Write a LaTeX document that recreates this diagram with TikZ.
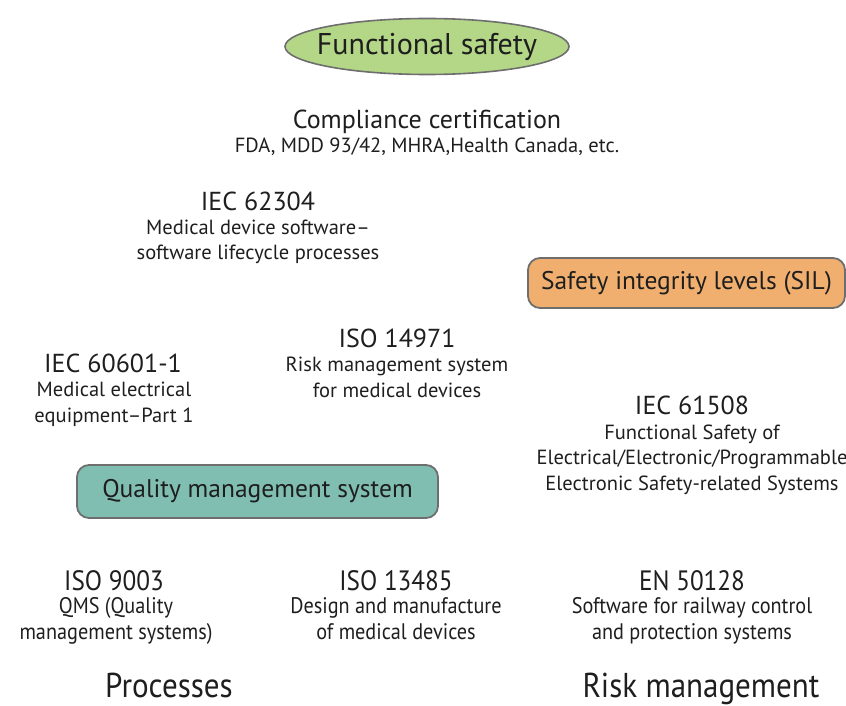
\documentclass[tikz,border=0pt]{standalone}
\usepackage{fontspec}
\setmainfont{PT Sans}
\newfontfamily\condfont[FakeStretch=0.9]{PT Sans}
\usetikzlibrary{shapes.geometric}
\definecolor{fsgreen}{RGB}{179,215,134}
\definecolor{silorange}{RGB}{240,175,110}
\definecolor{qmsteal}{RGB}{128,190,178}
\definecolor{edgegray}{RGB}{110,110,110}
\definecolor{txt}{RGB}{30,30,30}
\tikzset{
  headtext/.style={anchor=base, text=txt, inner sep=0pt, font=\fontsize{26}{30}\selectfont},
  desctext/.style={anchor=base, text=txt, inner sep=0pt, align=center, font=\fontsize{20.5}{25.5}\selectfont},
  condhead/.style={anchor=base, text=txt, inner sep=0pt, font=\condfont\fontsize{28}{32}\selectfont},
  conddesc/.style={anchor=base, text=txt, inner sep=0pt, align=center, font=\condfont\fontsize{22.5}{26}\selectfont},
  bigtext/.style={anchor=base, text=txt, inner sep=0pt, font=\condfont\fontsize{34.5}{38}\selectfont},
  roundbox/.style={draw=edgegray, line width=1.8pt, rounded corners=12pt, text=txt,
     font=\fontsize{25.5}{30}\selectfont, inner sep=0pt},
  ovalbox/.style={ellipse, draw=edgegray, line width=1.6pt, fill=fsgreen, text=txt,
     font=\fontsize{30}{34}\selectfont, inner xsep=-12pt, inner ysep=-4pt}
}
\begin{document}
\begin{tikzpicture}[x=1pt,y=-1pt]
\useasboundingbox (0,0) rectangle (846,706);

\node[ovalbox, minimum width=284pt, minimum height=56pt] (fs) at (427,46.5) {Functional safety};

\node[headtext] (comp) at (427,129) {Compliance certification};
\node[desctext] (compd) at (427,153) {FDA, MDD 93/42, MHRA,Health Canada, etc.};

\node[headtext] (iec62304) at (258,210) {IEC 62304};
\node[desctext] (iec62304d) at (258,259.5) {Medical device software--\\software lifecycle processes};

\node[roundbox, fill=silorange, minimum width=317pt, minimum height=50pt] (sil) at (686.5,283) {Safety integrity levels (SIL)};

\node[headtext] (iso14971) at (397,347) {ISO 14971};
\node[desctext] (iso14971d) at (397,397) {Risk management system\\for medical devices};

\node[headtext] (iec60601) at (113,372) {IEC 60601-1};
\node[desctext] (iec60601d) at (114,422) {Medical electrical\\equipment--Part 1};

\node[headtext] (iec61508) at (692,414) {IEC 61508};
\node[desctext] (iec61508d) at (692,490) {Functional Safety of\\Electrical/Electronic/Programmable\\Electronic Safety-related Systems};

\node[roundbox, fill=qmsteal, minimum width=361pt, minimum height=53pt] (qms) at (257.5,491.5) {Quality management system};

\node[condhead] (iso9003) at (114,590) {ISO 9003};
\node[conddesc] (iso9003d) at (116,639) {QMS (Quality\\management systems)};

\node[condhead] (iso13485) at (396,590) {ISO 13485};
\node[conddesc] (iso13485d) at (396,639) {Design and manufacture\\of medical devices};

\node[condhead] (en50128) at (692,590) {EN 50128};
\node[conddesc] (en50128d) at (692,639) {Software for railway control\\and protection systems};

\node[bigtext] (proc) at (169,697.5) {Processes};
\node[bigtext] (risk) at (701,697.5) {Risk management};
\end{tikzpicture}
\end{document}
